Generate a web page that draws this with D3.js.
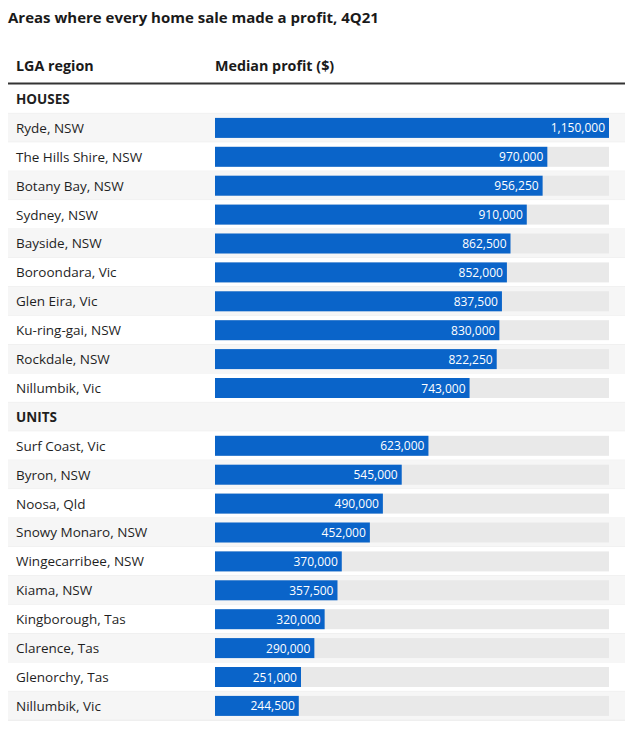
<!DOCTYPE html>
<html><head><meta charset="utf-8">
<script src="https://cdn.jsdelivr.net/npm/d3@7"></script>
<style>body{margin:0;background:#fff;} svg{display:block;}</style>
</head><body>
<script>
const title = "Areas where every home sale made a profit, 4Q21";
const colHeaders = ["LGA region", "Median profit ($)"];
const houseRegions = ["Ryde, NSW","The Hills Shire, NSW","Botany Bay, NSW","Sydney, NSW","Bayside, NSW","Boroondara, Vic","Glen Eira, Vic","Ku-ring-gai, NSW","Rockdale, NSW","Nillumbik, Vic"];
const houseValues = [1150000,970000,956250,910000,862500,852000,837500,830000,822250,743000];
const unitRegions = ["Surf Coast, Vic","Byron, NSW","Noosa, Qld","Snowy Monaro, NSW","Wingecarribee, NSW","Kiama, NSW","Kingborough, Tas","Clarence, Tas","Glenorchy, Tas","Nillumbik, Vic"];
const unitValues = [623000,545000,490000,452000,370000,357500,320000,290000,251000,244500];
const groups = ["HOUSES","UNITS"];

const rows = [];
rows.push({type:"group", label:groups[0]});
houseRegions.forEach((r,i)=>rows.push({type:"bar", label:r, value:houseValues[i]}));
rows.push({type:"group", label:groups[1]});
unitRegions.forEach((r,i)=>rows.push({type:"bar", label:r, value:unitValues[i]}));

const W = 629, H = 732;
const svg = d3.select("body").append("svg").attr("width",W).attr("height",H);
const font = "'Open Sans', sans-serif";

const y = d3.scaleBand().domain(d3.range(rows.length)).range([84.5, 84.5 + 28.9*rows.length]).paddingInner(0).paddingOuter(0);
const x = d3.scaleLinear().domain([0, d3.max(houseValues.concat(unitValues))]).range([215, 609]);
const fmt = d3.format(",");

svg.append("text").attr("x",8).attr("y",23).attr("font-family",font).attr("font-weight",700)
  .attr("font-size",15).attr("fill","#1a1a1a").text(title);

svg.append("text").attr("x",16).attr("y",71).attr("font-family",font).attr("font-weight",700)
  .attr("font-size",14.3).attr("fill","#1a1a1a").text(colHeaders[0]);
svg.append("text").attr("x",215).attr("y",71).attr("font-family",font).attr("font-weight",700)
  .attr("font-size",14.3).attr("fill","#1a1a1a").text(colHeaders[1]);

const g = svg.selectAll("g.row").data(rows).join("g").attr("class","row")
  .attr("transform",(d,i)=>`translate(0,${y(i)})`);

g.append("rect").attr("x",8).attr("width",617).attr("height",y.bandwidth())
  .attr("fill",(d,i)=> i%2===1 ? "#f6f6f6" : "#ffffff");
g.append("line").attr("x1",8).attr("x2",625).attr("y1",y.bandwidth()).attr("y2",y.bandwidth())
  .attr("stroke","#ececec").attr("stroke-width",1);

g.append("text").attr("x",16).attr("y",y.bandwidth()/2+5)
  .attr("font-family",font).attr("font-size",13.5)
  .attr("font-weight",d=>d.type==="group"?700:400)
  .attr("fill","#1f1f1f").text(d=>d.label);

const b = g.filter(d=>d.type==="bar");
b.append("rect").attr("x",x(0)).attr("y",4.5).attr("height",20)
  .attr("width",x.range()[1]-x(0)).attr("fill","#e9e9e9");
b.append("rect").attr("x",x(0)).attr("y",4.5).attr("height",20)
  .attr("width",d=>x(d.value)-x(0)).attr("fill","#0a64c9");
b.append("text").attr("x",d=>x(d.value)-4).attr("y",19).attr("text-anchor","end")
  .attr("font-family",font).attr("font-size",12).attr("fill","#ffffff").text(d=>fmt(d.value));

svg.append("line").attr("x1",8).attr("x2",625).attr("y1",83.5).attr("y2",83.5)
  .attr("stroke","#333").attr("stroke-width",2);
</script>
</body></html>
